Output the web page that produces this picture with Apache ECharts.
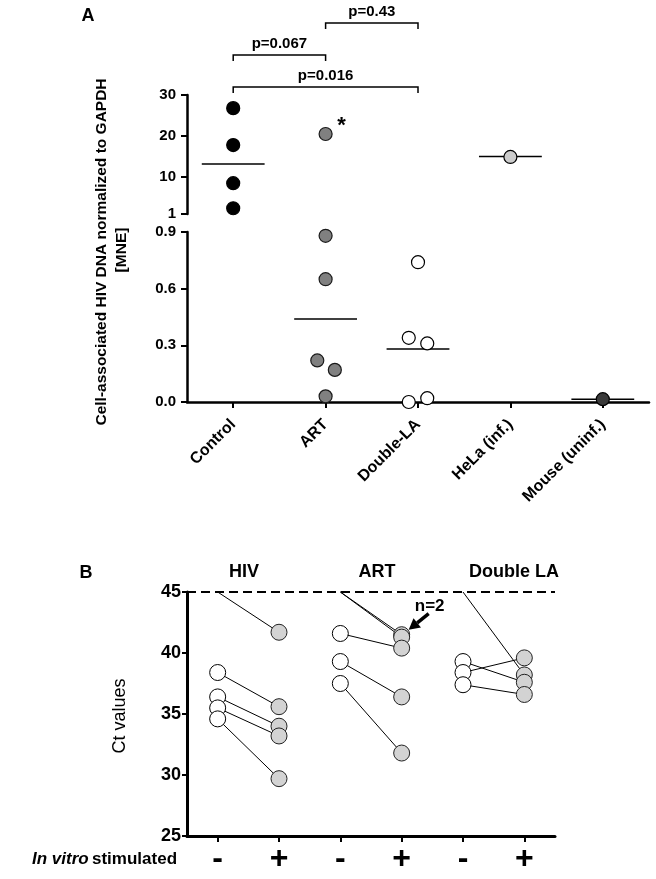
<!DOCTYPE html>
<html><head><meta charset="utf-8">
<script src="https://cdn.jsdelivr.net/npm/echarts@6/dist/echarts.min.js"></script>
<style>html,body{margin:0;padding:0;background:#fff}#c{width:656px;height:879px}</style>
</head><body><div id="c"></div>
<script>
// ---------- Panel A data ----------
const groupsA = ['Control', 'ART', 'Double-LA', 'HeLa (inf.)', 'Mouse (uninf.)'];
const controlVals = [26.8, 17.8, 8.5, 2.4];
const artVals = [20.5, 0.88, 0.65, 0.22, 0.17, 0.03];
const artJitter = [0, 0, 0, -0.09, 0.1, 0];
const dlaVals = [0.74, 0.34, 0.31, 0.02, 0.0];
const dlaJitter = [0, -0.1, 0.1, 0.1, -0.1];
const helaVals = [14.9];
const mouseVals = [0.015];
const medianA = [13.2, 0.44, 0.28, 15.0, 0.015];
const upperTicks = [1, 10, 20, 30];
const pPairs = [[0, 1], [1, 2], [0, 2]];
const pLabels = ['p=0.067', 'p=0.43', 'p=0.016'];

// ---------- Panel B data ----------
const groupsB = ['HIV', 'ART', 'Double LA'];
const stimLabels = ['-', '+', '-', '+', '-', '+'];
const hivMinus = [45, 38.4, 36.4, 35.5, 34.6];
const hivPlus = [41.7, 35.6, 34.0, 33.2, 29.7];
const artMinus = [45, 45, 41.6, 39.3, 37.5];
const artPlus = [41.5, 41.3, 40.4, 36.4, 31.8];
const dlaMinus = [45, 39.3, 38.4, 37.4];
const dlaPlus = [38.2, 37.6, 39.6, 36.6];
const detectionLimit = 45;

const FONT = 'Liberation Sans, Arial, sans-serif';
const chart = echarts.init(document.getElementById('c'), null, {renderer: 'canvas'});

const groupA = [
  {vals: controlVals, jit: null, color: '#000000', border: '#000000'},
  {vals: artVals, jit: artJitter, color: '#808080', border: '#1a1a1a'},
  {vals: dlaVals, jit: dlaJitter, color: '#ffffff', border: '#000000'},
  {vals: helaVals, jit: null, color: '#cccccc', border: '#000000'},
  {vals: mouseVals, jit: null, color: '#3a3a3a', border: '#000000'}
];

const series = [];
// median lines
medianA.forEach((m, i) => {
  const up = m >= 1 ? 0 : 1;
  series.push({type: 'line', xAxisIndex: up, yAxisIndex: up, data: [[i + 0.16, m], [i + 0.84, m]],
    symbol: 'none', lineStyle: {color: '#000', width: 1.5}, z: 2, silent: true, clip: false});
});
groupA.forEach((g, i) => {
  const upper = [], lower = [];
  g.vals.forEach((v, k) => {
    const x = i + 0.5 + (g.jit ? g.jit[k] : 0);
    (v >= 1 ? upper : lower).push([x, v]);
  });
  [[upper, 0], [lower, 1]].forEach(([d, ax]) => {
    if (!d.length) return;
    series.push({type: 'scatter', xAxisIndex: ax, yAxisIndex: ax, data: d, symbolSize: 13, clip: false, z: 4,
      itemStyle: {color: g.color, borderColor: g.border, borderWidth: 1.2, opacity: 1}});
  });
});

// Panel B
const pairsB = [[hivMinus, hivPlus], [artMinus, artPlus], [dlaMinus, dlaPlus]];
series.push({type: 'line', xAxisIndex: 2, yAxisIndex: 2, data: [[0, detectionLimit], [6, detectionLimit]],
  symbol: 'none', lineStyle: {color: '#000', width: 2, type: [9, 5]}, z: 2, clip: false});
const minusPts = [], plusPts = [];
pairsB.forEach(([mn, pl], g) => {
  const xm = 2 * g + 0.5, xp = 2 * g + 1.5;
  mn.forEach((vm, k) => {
    series.push({type: 'line', xAxisIndex: 2, yAxisIndex: 2, data: [[xm, vm], [xp, pl[k]]],
      symbol: 'none', lineStyle: {color: '#000', width: 1}, z: 3, clip: false});
    if (vm < detectionLimit) minusPts.push([xm, vm]);
    plusPts.push([xp, pl[k]]);
  });
});
series.push({type: 'scatter', xAxisIndex: 2, yAxisIndex: 2, data: minusPts, symbolSize: 16, z: 5, clip: false,
  itemStyle: {color: '#ffffff', borderColor: '#000', borderWidth: 1, opacity: 1}});
series.push({type: 'scatter', xAxisIndex: 2, yAxisIndex: 2, data: plusPts, symbolSize: 16, z: 5, clip: false,
  itemStyle: {color: '#d3d3d3', borderColor: '#222', borderWidth: 1, opacity: 1}});

const axisLineBlack = (w) => ({show: true, onZero: false, lineStyle: {color: '#000', width: w}});
const centersA = groupsA.map((_, i) => i + 0.5);
const centersB = stimLabels.map((_, i) => i + 0.5);

const option = {
  animation: false,
  backgroundColor: '#fff',
  textStyle: {fontFamily: FONT},
  grid: [
    {left: 187, top: 95, width: 462, height: 119, outerBoundsMode: 'none'},
    {left: 187, top: 232, width: 462, height: 170, outerBoundsMode: 'none'},
    {left: 187, top: 592, width: 368, height: 244, outerBoundsMode: 'none'}
  ],
  xAxis: [
    {gridIndex: 0, type: 'value', min: 0, max: 5, show: false},
    {gridIndex: 1, type: 'value', min: 0, max: 5, axisLine: axisLineBlack(2.5), splitLine: {show: false},
      axisTick: {show: true, customValues: centersA, length: 6, lineStyle: {color: '#000', width: 2}},
      axisLabel: {customValues: centersA, formatter: v => groupsA[Math.floor(v)], rotate: 45, margin: 20,
        fontSize: 16, fontWeight: 'bold', color: '#000', fontFamily: FONT}},
    {gridIndex: 2, type: 'value', min: 0, max: 6, axisLine: axisLineBlack(3), splitLine: {show: false},
      axisTick: {show: true, customValues: centersB, length: 6, lineStyle: {color: '#000', width: 2}},
      axisLabel: {customValues: centersB, formatter: v => stimLabels[Math.floor(v)], margin: 7,
        fontSize: 32, fontWeight: 'bold', color: '#000', fontFamily: FONT}}
  ],
  yAxis: [
    {gridIndex: 0, type: 'value', min: 1, max: 30, axisLine: axisLineBlack(2.5), splitLine: {show: false},
      axisTick: {show: true, customValues: upperTicks, length: 6, lineStyle: {color: '#000', width: 2}},
      axisLabel: {customValues: upperTicks, margin: 11, fontSize: 15, fontWeight: 'bold', color: '#000', fontFamily: FONT}},
    {gridIndex: 1, type: 'value', min: 0, max: 0.9, interval: 0.3, axisLine: axisLineBlack(2.5), splitLine: {show: false},
      axisTick: {show: true, length: 6, lineStyle: {color: '#000', width: 2}},
      axisLabel: {formatter: v => v.toFixed(1), margin: 11, fontSize: 15, fontWeight: 'bold', color: '#000', fontFamily: FONT}},
    {gridIndex: 2, type: 'value', min: 25, max: 45, interval: 5, axisLine: axisLineBlack(3), splitLine: {show: false},
      axisTick: {show: true, length: 5, lineStyle: {color: '#000', width: 2}},
      axisLabel: {margin: 6, fontSize: 18, fontWeight: 'bold', color: '#000', fontFamily: FONT}}
  ],
  series: series
};
chart.setOption(option);

// ---------- annotations ----------
const px = (gi, x, y) => chart.convertToPixel({gridIndex: gi}, [x, y]);
const txt = (x, y, text, size, extra) => Object.assign({
  type: 'text', x: x, y: y, z: 50,
  style: Object.assign({text: text, fill: '#000', fontSize: size, fontWeight: 'bold', fontFamily: FONT,
    align: 'center', verticalAlign: 'middle', textAlign: 'center', textVerticalAlign: 'middle'}, extra && extra.style || {})
}, extra && extra.el || {});

const gfx = [];
// panel labels
gfx.push(txt(88, 16, 'A', 18));
gfx.push(txt(86, 573, 'B', 18));
// y title A
gfx.push(txt(102, 252, 'Cell-associated HIV DNA normalized to GAPDH', 15.5, {el: {rotation: Math.PI / 2}}));
gfx.push(txt(122, 250, '[MNE]', 15.5, {el: {rotation: Math.PI / 2}}));
// brackets
const topA = px(0, 0, 30)[1];
const bracketOffsets = [-40, -72, -8];
pPairs.forEach(([a, b], k) => {
  const x1 = px(0, a + 0.5, 30)[0], x2 = px(0, b + 0.5, 30)[0];
  const y = topA + bracketOffsets[k];
  gfx.push({type: 'polyline', z: 50, shape: {points: [[x1, y + 6], [x1, y], [x2, y], [x2, y + 6]]},
    style: {stroke: '#000', lineWidth: 1.5, fill: null}});
  gfx.push(txt((x1 + x2) / 2, y - 11, pLabels[k], 15));
});
// asterisk near ART upper point
const artTop = px(0, 1.5, artVals[0]);
gfx.push(txt(artTop[0] + 16, artTop[1] - 8, '*', 22));

// panel B headers
const headerX = [244, 377, 514];
groupsB.forEach((g, i) => gfx.push(txt(headerX[i], 572, g, 18)));
// y title B
gfx.push(txt(120, 716, 'Ct values', 18, {el: {rotation: Math.PI / 2}, style: {fontWeight: 'normal'}}));
// in vitro stimulated
gfx.push({type: 'text', x: 32, y: 859, z: 50, style: {
  text: '{i|In vitro} {b|stimulated}', fill: '#000', align: 'left', verticalAlign: 'middle',
  textAlign: 'left', textVerticalAlign: 'middle',
  rich: {i: {fontStyle: 'italic', fontWeight: 'bold', fontSize: 17, fontFamily: FONT},
         b: {fontWeight: 'bold', fontSize: 17, fontFamily: FONT}}}});
// n=2 arrow
const tgt = px(2, 3.5, artPlus[0]);
const tip = [tgt[0] + 7, tgt[1] - 5];
const start = [tip[0] + 20, tip[1] - 16];
gfx.push(txt(start[0] + 1, start[1] - 7, 'n=2', 17));
const dx = tip[0] - start[0], dy = tip[1] - start[1], L = Math.hypot(dx, dy);
const ux = dx / L, uy = dy / L;
const hb = [tip[0] - ux * 11, tip[1] - uy * 11];
gfx.push({type: 'line', z: 50, shape: {x1: start[0], y1: start[1], x2: hb[0], y2: hb[1]}, style: {stroke: '#000', lineWidth: 3.5}});
gfx.push({type: 'polygon', z: 50, shape: {points: [tip, [hb[0] - uy * 6, hb[1] + ux * 6], [hb[0] + uy * 6, hb[1] - ux * 6]]},
  style: {fill: '#000'}});

chart.setOption({graphic: gfx});
</script>
</body></html>
